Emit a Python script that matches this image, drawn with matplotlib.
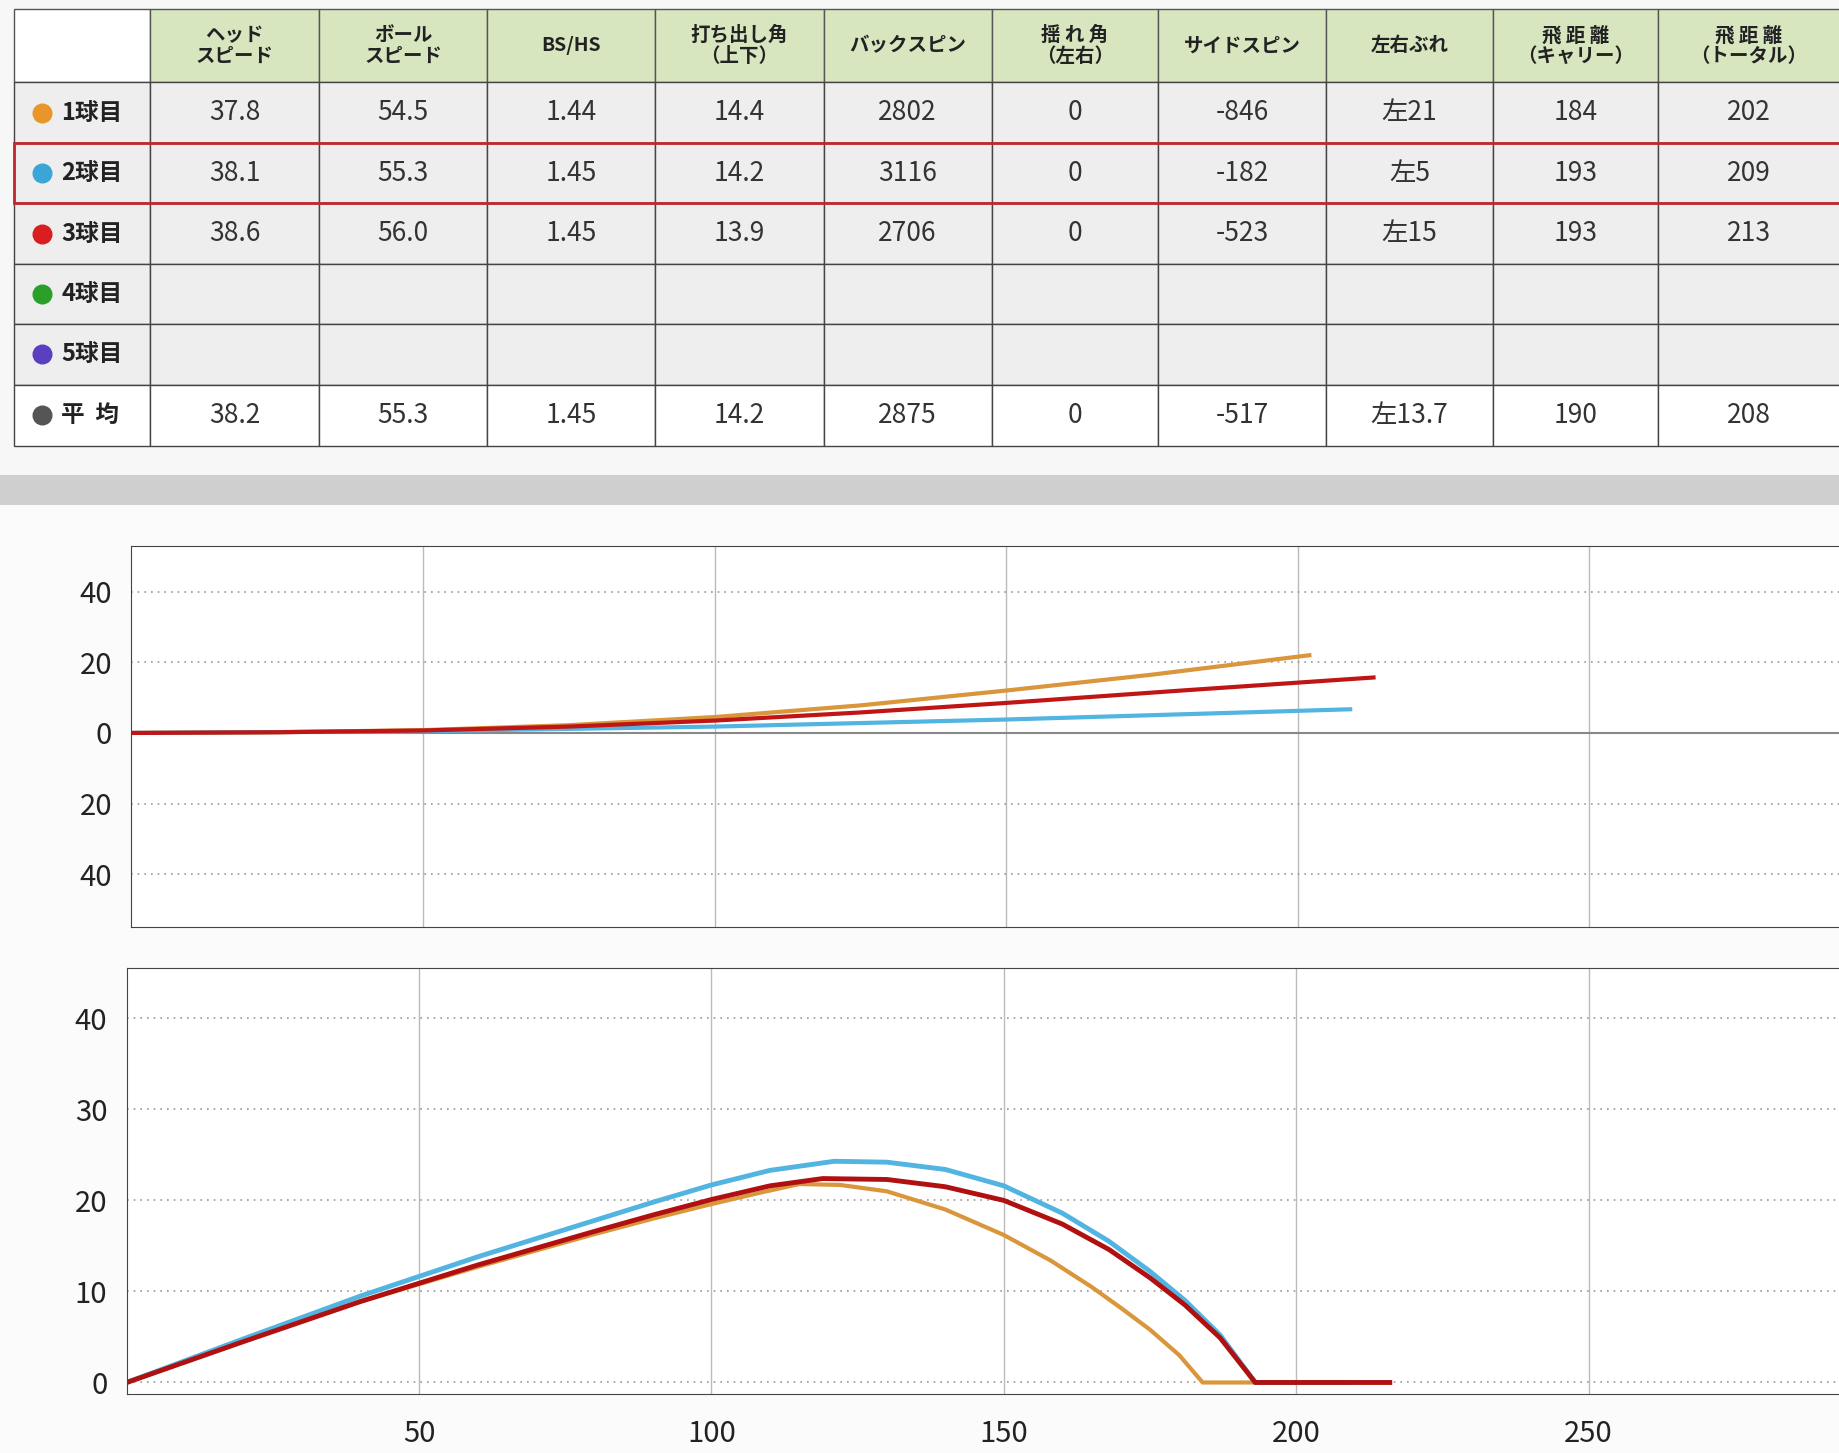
import matplotlib.pyplot as plt
from matplotlib.patches import Rectangle

plt.rcParams['font.family'] = ['Noto Sans CJK JP', 'DejaVu Sans']

# ---------------------------------------------------------------------------
# table data
# ---------------------------------------------------------------------------
headers = ["ヘッド\nスピード", "ボール\nスピード", "BS/HS", "打ち出し角\n（上下）", "バックスピン",
           "揺 れ 角\n（左右）", "サイドスピン", "左右ぶれ", "飛 距 離\n（キャリー）", "飛 距 離\n（トータル）"]
row_labels = ["1球目", "2球目", "3球目", "4球目", "5球目", "平  均"]
row_dots = ["#e8962a", "#3aa6d8", "#d81e1e", "#2aa02a", "#5a3fc0", "#555555"]
shot1 = ["37.8", "54.5", "1.44", "14.4", "2802", "0", "-846", "左21", "184", "202"]
shot2 = ["38.1", "55.3", "1.45", "14.2", "3116", "0", "-182", "左5", "193", "209"]
shot3 = ["38.6", "56.0", "1.45", "13.9", "2706", "0", "-523", "左15", "193", "213"]
average = ["38.2", "55.3", "1.45", "14.2", "2875", "0", "-517", "左13.7", "190", "208"]
table_rows = [shot1, shot2, shot3, [""] * 10, [""] * 10, average]

# ---------------------------------------------------------------------------
# trajectory data (distance, value)
# ---------------------------------------------------------------------------
side_x = [0, 25, 50, 75, 100, 125, 150, 175, 202]
side_orange = [0, 0.2, 0.8, 2.2, 4.5, 7.8, 12.0, 16.5, 22.0]
side_x_blue = [0, 50, 100, 150, 209]
side_blue = [0, 0.5, 1.8, 3.8, 6.7]
side_x_red = [0, 25, 50, 75, 100, 125, 150, 180, 213]
side_red = [0, 0.2, 0.7, 1.8, 3.5, 5.8, 8.5, 12.0, 15.7]

h_x_orange = [0, 20, 40, 60, 80, 90, 100, 108, 115, 122, 130, 140, 150, 158, 165, 170, 175, 180, 184, 202]
h_orange = [0, 4.6, 8.9, 12.7, 16.3, 18.0, 19.6, 20.8, 21.8, 21.7, 21.0, 19.0, 16.2, 13.4, 10.5, 8.2, 5.8, 3.0, 0, 0]
h_x_blue = [0, 20, 40, 60, 80, 90, 100, 110, 121, 130, 140, 150, 160, 168, 175, 181, 187, 193, 209]
h_blue = [0, 4.8, 9.5, 13.8, 17.8, 19.8, 21.7, 23.3, 24.3, 24.2, 23.4, 21.6, 18.6, 15.5, 12.2, 9.0, 5.2, 0, 0]
h_x_red = [0, 20, 40, 60, 80, 90, 100, 110, 119, 130, 140, 150, 160, 168, 175, 181, 187, 193, 216]
h_red = [0, 4.5, 8.9, 12.9, 16.6, 18.4, 20.1, 21.6, 22.4, 22.3, 21.5, 20.0, 17.4, 14.6, 11.5, 8.5, 4.9, 0, 0]

W, H = 1568, 1238
fig = plt.figure(figsize=(18.4, 14.53), dpi=100)
fig.patch.set_facecolor("#f7f7f7")

# overlay in picture coordinates for the table
over = fig.add_axes([0, 0, 1, 1])
over.set_xlim(0, W)
over.set_ylim(H, 0)
over.axis("off")

col_edges = [12, 128, 272, 415, 558, 702, 845, 987, 1130, 1272, 1413, 1568]
row_edges = [8, 70, 122, 173, 225, 276, 328, 380]
fs = 17

for i in range(len(col_edges) - 1):
    x0, x1 = col_edges[i], col_edges[i + 1]
    color = "#ffffff" if i == 0 else "#d8e6c0"
    over.add_patch(Rectangle((x0, row_edges[0]), x1 - x0, row_edges[1] - row_edges[0],
                             facecolor=color, edgecolor="#555555", lw=1))
    if i > 0:
        over.text((x0 + x1) / 2, (row_edges[0] + row_edges[1]) / 2, headers[i - 1],
                  ha="center", va="center", fontsize=14, color="#222222",
                  linespacing=1.1, fontweight="bold")

for r in range(len(row_labels)):
    y0, y1 = row_edges[r + 1], row_edges[r + 2]
    cy = (y0 + y1) / 2
    face = "#ffffff" if r == 5 else "#eeeeee"
    for i in range(len(col_edges) - 1):
        x0, x1 = col_edges[i], col_edges[i + 1]
        over.add_patch(Rectangle((x0, y0), x1 - x0, y1 - y0, facecolor=face,
                                 edgecolor="#444444", lw=1))
        if i > 0:
            over.text((x0 + x1) / 2, cy, table_rows[r][i - 1], ha="center", va="center",
                      fontsize=19, color="#333333")
    over.scatter([36], [cy], s=180, color=row_dots[r], zorder=5)
    over.text(52, cy, row_labels[r], ha="left", va="center", fontsize=fs,
              color="#222222", fontweight="bold")

# red highlight around shot 2
over.add_patch(Rectangle((col_edges[0], row_edges[2]), W - col_edges[0],
                         row_edges[3] - row_edges[2], facecolor="none",
                         edgecolor="#c0282d", lw=2, zorder=6))
# grey band between table and charts
over.add_patch(Rectangle((0, 405), W, 25, facecolor="#cfcfcf", edgecolor="none"))
over.add_patch(Rectangle((0, 430), W, H - 430, facecolor="#fbfbfb", edgecolor="none", zorder=0))


def pix_axes(x0, y0, x1, y1):
    return fig.add_axes([x0 / W, 1 - y1 / H, (x1 - x0) / W, (y1 - y0) / H])


def style(ax):
    ax.set_facecolor("#ffffff")
    ax.set_xlim(0, 293)
    ax.set_xticks([50, 100, 150, 200, 250])
    ax.grid(axis="x", color="#bbbbbb", lw=1)
    ax.grid(axis="y", color="#999999", lw=1.2, ls=(0, (1, 3)))
    for s in ax.spines.values():
        s.set_color("#444444")
    ax.spines["right"].set_visible(False)
    ax.tick_params(length=0, labelsize=21, colors="#222222", pad=14)


# side deviation chart
ax1 = pix_axes(112, 465, W, 790)
style(ax1)
ax1.set_ylim(-55, 53)
ax1.set_yticks([-40, -20, 0, 20, 40])
ax1.set_yticklabels(["40", "20", "0", "20", "40"])
ax1.set_xticklabels([])
ax1.axhline(0, color="#888888", lw=1.5)
ax1.plot(side_x, side_orange, color="#d9963a", lw=3)
ax1.plot(side_x_blue, side_blue, color="#52b4e0", lw=3)
ax1.plot(side_x_red, side_red, color="#c01515", lw=3)

# height chart
ax2 = pix_axes(108, 825, W, 1188)
style(ax2)
ax2.set_ylim(-1.3, 45.5)
ax2.set_yticks([0, 10, 20, 30, 40])
ax2.plot(h_x_orange, h_orange, color="#d9963a", lw=3)
ax2.plot(h_x_blue, h_blue, color="#52b4e0", lw=3.5)
ax2.plot(h_x_red, h_red, color="#b01010", lw=3.5)
ax2.tick_params(axis="x", pad=18)

fig.savefig("out.png", dpi=100)
